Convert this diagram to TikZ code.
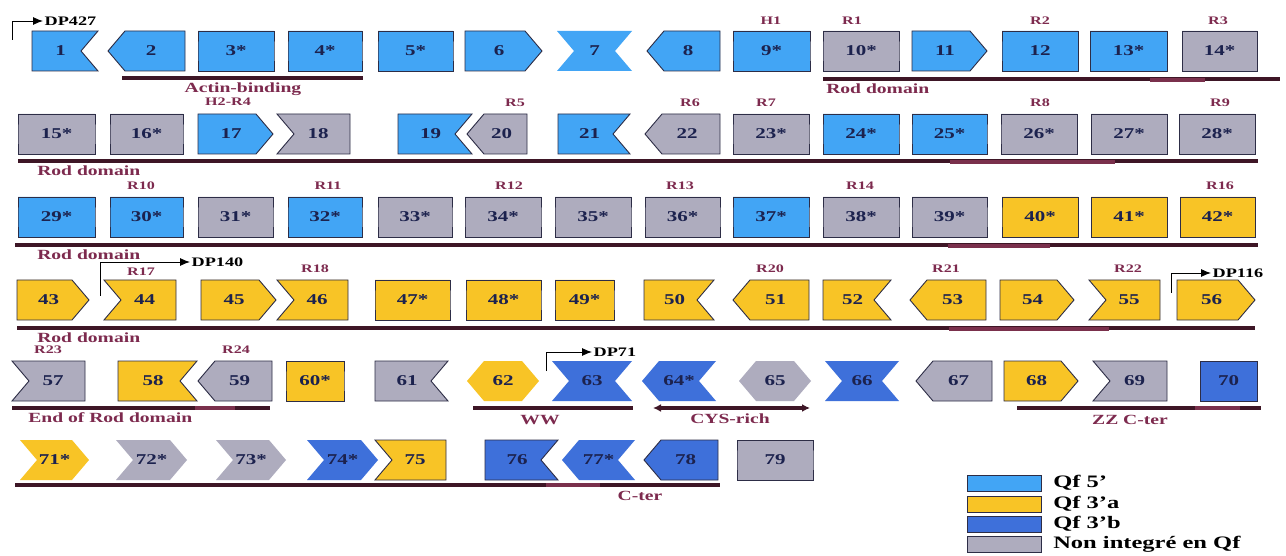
\documentclass[tikz,border=0pt]{standalone}
\usepackage{fontspec}
\setmainfont{Liberation Serif}
\usetikzlibrary{arrows.meta}

\definecolor{qfive}{RGB}{66,165,245}
\definecolor{qthreea}{RGB}{248,196,38}
\definecolor{qthreeb}{RGB}{62,112,218}
\definecolor{nonq}{RGB}{174,172,190}
\definecolor{exline}{RGB}{45,45,70}
\definecolor{numc}{RGB}{28,34,78}
\definecolor{barc}{RGB}{62,22,38}
\definecolor{barhi}{RGB}{122,48,76}
\definecolor{labc}{RGB}{125,42,78}

\newcommand{\dep}{17}
% one row of exons: centre line, then name/text/x0/x1/left/right/fill/edge
% left, right: 0 flat, 1 pointed out, 2 notched in
\newcommand{\exonrow}[2]{%
  \foreach \en/\et/\xa/\xb/\lt/\rt/\fc/\ed in {#2} {
    \pgfmathsetmacro\exL{\xa+(\lt==1)*\dep}
    \pgfmathsetmacro\exLm{\xa+(\lt==2)*\dep}
    \pgfmathsetmacro\exR{\xb-(\rt==1)*\dep}
    \pgfmathsetmacro\exRm{\xb-(\rt==2)*\dep}
    \pgfmathsetmacro\exT{(\xa+(\lt>0)*9+\xb-(\rt>0)*9)/2}
    \path[\fc,\ed] (\exL,#1-20) -- (\exR,#1-20) -- (\exRm,#1) -- (\exR,#1+20)
      -- (\exL,#1+20) -- (\exLm,#1) -- cycle;
    \node[num] (e\en) at (\exT,#1) {\et};
  }}

\begin{document}
\begin{tikzpicture}[x=1pt, y=-1pt, >={Latex[length=10pt,width=8pt]},
  exon/.style={line width=0.9pt, line join=miter},
  edged/.style={draw=exline},
  plain/.style={draw=none},
  q5/.style={exon, fill=qfive},
  qa/.style={exon, fill=qthreea},
  qb/.style={exon, fill=qthreeb},
  ng/.style={exon, fill=nonq},
  num/.style={font=\fontsize{15}{15}\selectfont\bfseries, text=numc, inner sep=0pt, xscale=1.4},
  rlab/.style={font=\fontsize{11.5}{11.5}\selectfont\bfseries, text=labc, inner sep=0pt, xscale=1.4},
  dlab/.style={font=\fontsize{14}{14}\selectfont\bfseries, text=labc, inner sep=0pt, xscale=1.4},
  bar/.style={draw=barc, line width=3.2pt},
  barlit/.style={draw=barhi, line width=4.4pt},
  prom/.style={draw=black, line width=0.9pt, ->},
  plab/.style={font=\fontsize{13}{13}\selectfont\bfseries, anchor=west, inner sep=1pt, xscale=1.4},
  legbox/.style={draw=exline, line width=0.9pt, minimum width=74pt, minimum height=16pt, inner sep=0pt},
  legtext/.style={font=\fontsize{17.5}{17.5}\selectfont\bfseries, anchor=west, inner sep=0pt, xscale=1.4}]
\useasboundingbox[fill=white] (0,0) rectangle (1286,556);

% domain bars
\foreach \nm/\xa/\xb/\yy in {ab/122/363/78, rodA/823/1280/79, rodB/18/1258/161,
    rodC/15/1258/245, rodD/17/1255/328, endrod/12/270/408, ww/473/633/408,
    zz/1017/1261/408, cter/15/720/485} {
  \coordinate (\nm-s) at (\xa,\yy);
  \coordinate (\nm-e) at (\xb,\yy);
  \draw[bar] (\nm-s) -- (\nm-e);
}
\foreach \xa/\xb/\yy in {1150/1205/80, 950/1115/162, 948/1050/246, 949/1109/329,
    195/235/408, 1195/1240/408, 546/600/485}
  \draw[barlit] (\xa,\yy) -- (\xb,\yy);
\coordinate (cys-s) at (653,408);
\coordinate (cys-e) at (810,408);
\draw[bar, {Latex[length=8pt,width=8pt]}-{Latex[length=8pt,width=8pt]}] (cys-s) -- (cys-e);

% exons
\exonrow{51}{1/1/32/98/0/2/q5/edged, 2/2/108/185/1/0/q5/edged, 3/3*/198/274/0/0/q5/edged,
  4/4*/288/362/0/0/q5/edged, 5/5*/378/453/0/0/q5/edged, 6/6/465/542/0/1/q5/edged,
  7/7/557/632/2/2/q5/plain, 8/8/647/720/1/0/q5/edged, 9/9*/733/810/0/0/q5/edged,
  10/10*/823/899/0/0/ng/edged, 11/11/912/987/0/1/q5/edged, 12/12/1002/1078/0/0/q5/edged,
  13/13*/1090/1167/0/0/q5/edged, 14/14*/1182/1257/0/0/ng/edged}
\exonrow{134}{15/15*/18/95/0/0/ng/edged, 16/16*/110/183/0/0/ng/edged, 17/17/198/273/0/1/q5/edged,
  18/18/277/350/2/0/ng/edged, 19/19/398/472/0/2/q5/edged, 20/20/467/527/1/0/ng/edged,
  21/21/558/630/0/2/q5/edged, 22/22/645/720/1/0/ng/edged, 23/23*/733/809/0/0/ng/edged,
  24/24*/823/899/0/0/q5/edged, 25/25*/912/987/0/0/q5/edged, 26/26*/1001/1077/0/0/ng/edged,
  27/27*/1091/1167/0/0/ng/edged, 28/28*/1179/1255/0/0/ng/edged}
\exonrow{217}{29/29*/18/95/0/0/q5/edged, 30/30*/110/183/0/0/q5/edged, 31/31*/198/273/0/0/ng/edged,
  32/32*/288/362/0/0/q5/edged, 33/33*/378/452/0/0/ng/edged, 34/34*/465/541/0/0/ng/edged,
  35/35*/555/631/0/0/ng/edged, 36/36*/645/720/0/0/ng/edged, 37/37*/733/809/0/0/q5/edged,
  38/38*/823/899/0/0/ng/edged, 39/39*/912/987/0/0/ng/edged, 40/40*/1002/1078/0/0/qa/edged,
  41/41*/1091/1167/0/0/qa/edged, 42/42*/1180/1255/0/0/qa/edged}
\exonrow{300}{43/43/17/89/0/1/qa/edged, 44/44/104/176/2/0/qa/edged, 45/45/201/276/0/1/qa/edged,
  46/46/277/348/2/0/qa/edged, 47/47*/375/450/0/0/qa/edged, 48/48*/466/541/0/0/qa/edged,
  49/49*/555/614/0/0/qa/edged, 50/50/644/714/0/2/qa/edged, 51/51/733/809/1/0/qa/edged,
  52/52/823/891/0/2/qa/edged, 53/53/910/986/1/0/qa/edged, 54/54/1000/1074/0/1/qa/edged,
  55/55/1089/1160/2/0/qa/edged, 56/56/1177/1255/0/1/qa/edged}
\exonrow{381}{57/57/12/85/2/0/ng/edged, 58/58/118/197/0/2/qa/edged, 59/59/198/272/1/0/ng/edged,
  60/60*/286/344/0/0/qa/edged, 61/61/375/448/0/2/ng/edged, 62/62/467/539/1/1/qa/plain,
  63/63/552/632/2/2/qb/plain, 64/64*/642/716/1/2/qb/plain, 65/65/739/811/1/1/ng/plain,
  66/66/825/899/2/2/qb/plain, 67/67/916/992/1/0/ng/edged, 68/68/1004/1078/0/1/qa/edged,
  69/69/1093/1167/2/0/ng/edged, 70/70/1200/1257/0/0/qb/edged}
\exonrow{460}{71/71*/20/89/2/1/qa/plain, 72/72*/116/187/2/1/ng/plain, 73/73*/216/286/2/1/ng/plain,
  74/74*/307/378/2/1/qb/plain, 75/75/375/446/2/0/qa/edged, 76/76/485/558/0/2/qb/edged,
  77/77*/562/635/1/2/qb/plain, 78/78/644/718/1/0/qb/edged, 79/79/737/813/0/0/ng/edged}

% repeat labels
\foreach \lb/\xx/\yy [count=\k] in {H1/771/21, R1/852/21, R2/1040/21, R3/1218/21,
    H2-R4/228/102, R5/515/103, R6/690/103, R7/766/103, R8/1040/103, R9/1220/103,
    R10/141/186, R11/328/186, R12/509/186, R13/680/186, R14/860/186, R16/1220/186,
    R17/141/272, R18/315/269, R20/770/269, R21/946/269, R22/1128/269,
    R23/48/350, R24/236/350}
  \node[rlab] (lab\k) at (\xx,\yy) {\lb};

% domain names
\node[dlab] (actin) at (243,89) {Actin-binding};
\node[dlab, anchor=west] (rod1) at (826,89) {Rod domain};
\node[dlab, anchor=west] (rod2) at (37,171) {Rod domain};
\node[dlab, anchor=west] (rod3) at (37,255) {Rod domain};
\node[dlab, anchor=west] (rod4) at (37,338) {Rod domain};
\node[dlab, anchor=west] (endr) at (28,418) {End of Rod domain};
\node[dlab] (wwl) at (540,420) {WW};
\node[dlab] (cysl) at (730,419) {CYS-rich};
\node[dlab] (zzl) at (1130,420) {ZZ C-ter};
\node[dlab] (cterl) at (640,496) {C-ter};

% promoters
\coordinate (p427) at (12,40);
\node[plab] (dp427) at (43,21) {DP427};
\draw[prom] (p427) |- (dp427.west);
\coordinate (p140) at (100,296);
\node[plab] (dp140) at (190,262) {DP140};
\draw[prom] (p140) |- (dp140.west);
\coordinate (p116) at (1171,293);
\node[plab] (dp116) at (1211,273) {DP116};
\draw[prom] (p116) |- (dp116.west);
\coordinate (p71) at (546,371);
\node[plab] (dp71) at (592,352) {DP71};
\draw[prom] (p71) |- (dp71.west);

% legend
\foreach \fc/\lb/\yy [count=\k] in {qfive/Qf 5’/483, qthreea/Qf 3’a/504, qthreeb/Qf 3’b/524,
    nonq/Non integré en Qf/544} {
  \node[legbox, fill=\fc] (key\k) at (1004,\yy) {};
  \node[legtext] (keytext\k) at (1053,\yy) {\lb};
}
\end{tikzpicture}
\end{document}
